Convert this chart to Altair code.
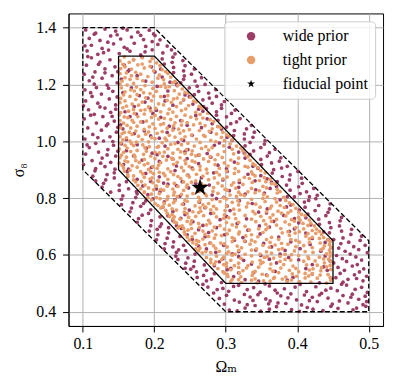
import altair as alt
import pandas as pd

# ---- polygon outlines of the two priors ----
wide_poly_x = [0.10, 0.20, 0.50, 0.50, 0.30, 0.10, 0.10]
wide_poly_y = [1.40, 1.40, 0.65, 0.40, 0.40, 0.90, 1.40]
tight_poly_x = [0.15, 0.20, 0.45, 0.45, 0.30, 0.15, 0.15]
tight_poly_y = [1.30, 1.30, 0.65, 0.50, 0.50, 0.90, 1.30]

fiducial_x = [0.264]
fiducial_y = [0.837]

# ---- wide prior samples (x, y pairs) ----
wide_top = [.104,1.392, .118,1.381, .131,1.395, .146,1.388, .162,1.392, .177,1.384, .193,1.391,
    .109,1.362, .124,1.355, .139,1.371, .153,1.36, .168,1.367, .185,1.358, .201,1.372,
    .112,1.338, .127,1.327, .143,1.343, .158,1.331, .172,1.345, .188,1.334, .205,1.341, .218,1.335,
    .106,1.318, .121,1.306, .136,1.321, .151,1.309, .166,1.317, .181,1.304, .197,1.322, .212,1.311, .229,1.308,
    .116,1.377, .148,1.375, .181,1.373, .135,1.349, .197,1.351, .162,1.325, .224,1.322, .103,1.336,
    .208,1.357, .129,1.312, .187,1.315, .156,1.398, .199,1.378]

wide_left = [.112,1.294, .138,1.287, .124,1.279, .105,1.268, .145,1.262, .131,1.255, .117,1.244, .102,1.236,
    .141,1.231, .127,1.222, .109,1.213, .148,1.206, .134,1.198, .119,1.189, .103,1.181, .142,1.176,
    .126,1.166, .113,1.158, .137,1.149, .104,1.142, .121,1.134, .146,1.128, .131,1.117, .108,1.111,
    .139,1.102, .116,1.095, .128,1.087, .102,1.079, .144,1.071, .119,1.064, .133,1.055, .107,1.047,
    .126,1.039, .147,1.032, .114,1.024, .138,1.016, .103,1.008, .129,1.001, .118,.993, .143,.986,
    .109,.978, .135,.971, .122,.962, .104,.955, .146,.948, .127,.941, .113,.932, .139,.926,
    .101,.918, .131,.911, .118,.904, .145,.902,
    .122,1.271, .149,1.245, .114,1.226, .136,1.187, .111,1.171, .148,1.156, .124,1.121, .141,1.088,
    .111,1.092, .135,1.061, .149,1.049, .121,1.013, .142,.999, .106,.987, .149,.965, .125,.923,
    .107,1.298, .131,1.241, .146,1.113, .116,1.201, .101,1.125, .134,.952]

wide_lower_left = [.117,.896, .144,.889, .134,.883, .114,.877, .144,.871, .132,.864, .161,.858, .129,.852,
    .151,.846, .127,.839, .164,.833, .151,.827, .139,.821, .176,.815, .156,.808, .174,.802,
    .154,.796, .188,.79, .170,.784, .154,.777, .181,.771, .168,.765, .195,.759, .166,.752,
    .192,.746, .183,.74, .208,.734, .178,.728, .196,.721, .176,.715, .210,.709, .195,.703,
    .220,.696, .204,.69, .193,.684, .220,.678, .205,.671, .236,.665, .218,.659, .203,.653,
    .227,.646, .215,.64, .241,.634, .226,.628, .214,.621, .244,.615, .231,.609, .257,.603,
    .230,.596, .247,.59, .233,.584, .256,.578, .244,.571, .270,.565, .255,.559, .243,.553,
    .273,.546, .259,.54, .284,.534, .269,.528, .260,.521, .280,.515, .273,.509, .294,.503,
    .118,.861, .185,.781, .208,.70, .234,.618, .251,.55, .175,.823]

wide_bottom = [.305,.406, .327,.413, .349,.402, .371,.418, .392,.408, .414,.415, .436,.404, .457,.412, .478,.407, .496,.419,
    .298,.427, .319,.434, .341,.422, .362,.438, .384,.429, .406,.424, .428,.436, .449,.427, .471,.431, .492,.425,
    .291,.447, .312,.441, .334,.452, .356,.445, .377,.456, .399,.442, .421,.451, .443,.448, .464,.457, .486,.444,
    .283,.466, .304,.472, .326,.461, .348,.469, .369,.476, .391,.463, .413,.471, .434,.465, .456,.474, .477,.462, .498,.468,
    .275,.487, .296,.482, .318,.493, .339,.485, .361,.491, .382,.481, .404,.496, .426,.488, .447,.483, .469,.494, .49,.486,
    .316,.403, .361,.409, .403,.401, .447,.419, .483,.413, .33,.425, .373,.431, .417,.439, .459,.438, .497,.436,
    .301,.458, .345,.46, .387,.449, .431,.459, .475,.451, .288,.478, .33,.478, .372,.466, .397,.487, .44,.476,
    .462,.497, .268,.496, .311,.489, .355,.498, .481,.479, .422,.409, .338,.44, .41,.459, .495,.455, .36,.428]

wide_right = [.226,1.296, .211,1.29, .240,1.284, .225,1.278, .214,1.272, .243,1.266, .227,1.26, .256,1.254,
    .241,1.248, .227,1.242, .252,1.236, .242,1.23, .266,1.224, .241,1.218, .257,1.212, .237,1.206,
    .271,1.2, .260,1.194, .249,1.188, .286,1.182, .262,1.176, .276,1.17, .256,1.164, .287,1.158,
    .277,1.152, .268,1.146, .298,1.14, .281,1.134, .294,1.128, .269,1.122, .294,1.116, .313,1.11,
    .287,1.104, .308,1.098, .287,1.092, .301,1.086, .320,1.08, .289,1.074, .315,1.068, .307,1.062,
    .336,1.056, .301,1.05, .329,1.044, .312,1.038, .340,1.032, .326,1.026, .311,1.02, .338,1.014,
    .326,1.008, .355,1.002, .334,.996, .354,.99, .327,.984, .349,.978, .369,.972, .339,.966,
    .361,.96, .334,.954, .358,.948, .377,.942, .349,.936, .375,.93, .364,.924, .350,.918,
    .386,.912, .378,.906, .367,.90, .401,.894, .365,.888, .390,.882, .379,.876, .406,.87,
    .389,.864, .372,.858, .407,.852, .385,.846, .402,.84, .423,.834, .390,.828, .413,.822,
    .404,.816, .428,.81, .396,.804, .426,.798, .416,.792, .410,.786, .446,.78, .430,.774,
    .411,.768, .445,.762, .425,.756, .443,.75, .415,.744, .440,.738, .462,.732, .430,.726,
    .460,.72, .445,.714, .431,.708, .459,.702, .447,.696, .476,.69, .462,.684, .445,.678,
    .475,.672, .490,.666, .464,.66, .451,.654, .488,.651, .273,1.115, .417,.805,
    .472,.645, .461,.64, .495,.634, .479,.629, .458,.624, .486,.619, .467,.613, .498,.608,
    .474,.603, .455,.598, .482,.593, .463,.587, .49,.582, .469,.577, .451,.572, .484,.566,
    .477,.561, .457,.556, .493,.551, .466,.546, .487,.54, .46,.535, .48,.53, .497,.525,
    .454,.52, .471,.514, .492,.509, .464,.504, .483,.517]

wide_inner = [.171,1.287, .196,1.262, .158,1.268, .209,1.254, .183,1.296, .165,1.251,
    .222,1.208, .176,1.231, .201,1.244, .154,1.219, .231,1.203, .188,1.212, .163,1.246, .211,1.226,
    .243,1.163, .168,1.188, .219,1.177, .191,1.152, .156,1.171, .232,1.196, .204,1.193, .249,1.157, .179,1.161, .214,1.158,
    .262,1.113, .187,1.138, .226,1.127, .159,1.104, .241,1.146, .203,1.109, .172,1.122, .254,1.131, .215,1.142, .268,1.106, .194,1.117,
    .281,1.062, .166,1.087, .237,1.073, .198,1.098, .258,1.091, .153,1.058, .221,1.053, .274,1.079, .184,1.068, .246,1.056, .209,1.084, .289,1.052, .175,1.096,
    .302,1.014, .186,1.037, .253,1.021, .161,1.006, .227,1.046, .279,1.032, .207,1.011, .294,1.043, .172,1.027, .241,1.003, .266,1.048, .195,1.019, .309,1.004, .218,1.031, .156,1.044,
    .318,.962, .176,.988, .247,.971, .204,.953, .291,.994, .161,.967, .233,.996, .274,.957, .189,.976, .326,.958, .215,.983, .262,.951, .305,.979, .154,.991, .243,.964, .197,.958, .284,.986,
    .338,.912, .183,.934, .262,.921, .219,.947, .301,.903, .157,.918, .246,.939, .327,.941, .196,.908, .279,.944, .231,.913, .171,.949, .312,.927, .253,.906, .207,.929, .345,.905, .164,.902, .289,.916, .226,.937,
    .188,.887, .266,.872, .341,.861, .213,.853, .302,.894, .176,.866, .247,.881, .358,.868, .229,.897, .319,.855, .195,.859, .283,.889, .349,.879, .162,.893, .258,.852, .331,.884, .207,.875, .296,.864, .239,.858, .364,.856,
    .203,.832, .277,.846, .354,.818, .236,.807, .318,.838, .191,.812, .262,.824, .371,.841, .219,.849, .297,.803, .342,.829, .184,.843, .248,.836, .386,.805, .327,.814, .208,.822, .281,.811, .362,.834, .231,.844, .305,.826,
    .214,.787, .302,.772, .376,.794, .249,.758, .337,.781, .198,.797, .271,.766, .391,.776, .226,.753, .319,.791, .358,.762, .241,.779, .403,.758, .287,.798, .212,.769, .346,.751, .263,.785, .385,.769, .306,.756, .229,.794,
    .243,.742, .329,.727, .402,.713, .268,.704, .357,.748, .226,.721, .301,.736, .419,.706, .254,.717, .381,.739, .231,.703, .316,.711, .396,.728, .279,.746, .347,.702, .219,.738, .292,.724, .367,.718, .412,.731, .237,.729,
    .262,.689, .348,.674, .421,.658, .287,.696, .374,.663, .246,.671, .312,.652, .437,.681, .271,.664, .396,.692, .331,.687, .253,.655, .412,.677, .298,.671, .361,.698, .238,.693, .443,.654, .324,.661, .389,.683, .276,.679,
    .278,.642, .364,.628, .433,.613, .309,.604, .391,.646, .262,.631, .342,.617, .418,.637, .286,.609, .447,.626, .327,.648, .273,.621, .376,.603, .404,.622, .297,.634, .353,.641, .439,.644, .318,.612, .383,.616,
    .296,.587, .371,.572, .437,.558, .318,.594, .402,.583, .284,.562, .349,.598, .421,.566, .307,.553, .388,.591, .446,.579, .336,.568, .291,.576, .412,.552, .361,.585, .325,.581, .439,.596,
    .318,.537, .394,.521, .442,.546, .346,.508, .311,.524, .421,.533, .369,.542, .327,.513, .403,.504, .448,.517, .357,.529, .302,.548, .386,.511, .431,.502, .339,.538]

# ---- tight prior samples (x, y pairs) ----
tight_upper = [.158,1.297, .183,1.294, .197,1.291, .171,1.288, .152,1.283, .194,1.281,
    .165,1.278, .203,1.276, .183,1.272, .156,1.271, .177,1.269, .194,1.264, .159,1.262, .208,1.266,
    .186,1.258, .168,1.254, .211,1.252, .153,1.256, .199,1.248, .174,1.243, .216,1.245, .161,1.241,
    .152,1.238, .181,1.236, .207,1.233, .168,1.231, .219,1.239, .191,1.228, .159,1.224, .223,1.226, .176,1.221, .205,1.222,
    .166,1.218, .213,1.217, .184,1.213, .229,1.211, .155,1.212, .197,1.208, .171,1.204, .226,1.206, .152,1.201, .214,1.202,
    .162,1.198, .187,1.196, .233,1.197, .209,1.193, .175,1.191, .221,1.192,
    .154,1.188, .198,1.186, .239,1.184, .181,1.182, .216,1.189, .167,1.181,
    .228,1.178, .203,1.176, .159,1.174, .243,1.172, .185,1.171, .172,1.177,
    .194,1.168, .235,1.166, .157,1.163, .219,1.161, .247,1.169, .176,1.164,
    .166,1.158, .209,1.157, .251,1.155, .188,1.153, .153,1.151, .232,1.152, .199,1.159,
    .241,1.148, .174,1.147, .218,1.144, .159,1.142, .255,1.141, .196,1.143, .227,1.149,
    .183,1.138, .152,1.136, .237,1.135, .206,1.132, .259,1.139, .169,1.131, .224,1.137,
    .213,1.128, .248,1.126, .161,1.124, .192,1.121, .263,1.123, .178,1.127, .231,1.122,
    .156,1.118, .202,1.116, .244,1.114, .187,1.111, .266,1.117, .221,1.113, .171,1.112,
    .238,1.108, .164,1.106, .209,1.104, .258,1.102, .181,1.109, .153,1.101, .226,1.103, .195,1.107,
    .172,1.098, .219,1.097, .264,1.095, .151,1.093, .201,1.091, .243,1.092, .186,1.096, .275,1.099,
    .231,1.088, .158,1.086, .196,1.084, .268,1.082, .214,1.081, .177,1.087, .251,1.085, .163,1.083,
    .206,1.078, .278,1.076, .169,1.074, .239,1.072, .189,1.071, .223,1.077, .152,1.073, .259,1.079,
    .181,1.068, .246,1.066, .157,1.064, .213,1.062, .283,1.069, .198,1.061, .264,1.063, .171,1.067, .229,1.065,
    .255,1.058, .162,1.056, .227,1.054, .289,1.052, .193,1.051, .238,1.057, .176,1.053, .271,1.055, .209,1.059,
    .153,1.048, .218,1.046, .281,1.044, .186,1.042, .249,1.041, .167,1.047, .234,1.043, .293,1.049, .201,1.045,
    .263,1.038, .174,1.036, .211,1.034, .296,1.032, .158,1.031, .241,1.037, .192,1.033, .277,1.035, .226,1.039, .165,1.032,
    .204,1.028, .287,1.026, .169,1.024, .252,1.022, .221,1.021, .155,1.027, .301,1.023, .188,1.025, .236,1.029, .269,1.021,
    .178,1.018, .243,1.016, .294,1.014, .161,1.012, .215,1.011, .271,1.017, .196,1.013, .305,1.019, .229,1.015, .152,1.016,
    .259,1.008, .183,1.006, .217,1.004, .298,1.002, .166,1.001, .238,1.007, .279,1.003, .201,1.009, .156,1.005, .309,1.006]

tight_middle = [.192,.998, .264,.996, .153,.994, .229,.992, .306,.991, .175,.997, .247,.993, .286,.999, .211,.995, .168,.992,
    .238,.988, .159,.986, .297,.984, .206,.982, .272,.981, .184,.987, .315,.983, .223,.989, .171,.985, .256,.983, .193,.981,
    .281,.978, .162,.976, .219,.974, .309,.972, .245,.971, .187,.977, .151,.973, .266,.975, .204,.979, .321,.976, .233,.972,
    .176,.968, .253,.966, .298,.964, .214,.962, .157,.961, .324,.967, .237,.963, .189,.965, .276,.969, .201,.961, .167,.964,
    .226,.958, .311,.956, .185,.954, .263,.952, .154,.951, .243,.957, .289,.953, .207,.959, .327,.955, .172,.951, .252,.954,
    .195,.948, .278,.946, .161,.944, .236,.942, .318,.941, .212,.947, .295,.943, .173,.945, .258,.949, .331,.946, .152,.942, .224,.941,
    .269,.938, .186,.936, .307,.934, .243,.932, .159,.931, .226,.937, .334,.933, .201,.939, .285,.935, .174,.932, .253,.931, .217,.934,
    .163,.928, .232,.926, .298,.924, .191,.922, .338,.921, .257,.927, .151,.923, .276,.929, .209,.925, .317,.922, .179,.926, .244,.921,
    .285,.918, .206,.916, .169,.914, .327,.912, .249,.911, .186,.917, .303,.913, .227,.919, .155,.915, .341,.916, .264,.912, .198,.911,
    .238,.908, .157,.906, .313,.904, .273,.902, .192,.901, .345,.907, .219,.903, .176,.909, .291,.905, .254,.901, .331,.909, .204,.905,
    .166,.898, .241,.896, .318,.894, .195,.892, .287,.891, .349,.897, .223,.893, .158,.895, .264,.899, .336,.892, .207,.891, .301,.895, .181,.893,
    .274,.888, .199,.886, .338,.884, .163,.882, .246,.881, .312,.887, .227,.883, .355,.889, .184,.885, .291,.882, .213,.887, .259,.884,
    .171,.878, .233,.876, .302,.874, .354,.872, .197,.871, .268,.877, .326,.873, .215,.879, .163,.875, .284,.871, .249,.874, .341,.878, .186,.873,
    .296,.868, .219,.866, .171,.864, .347,.862, .258,.861, .194,.867, .319,.863, .237,.869, .276,.865, .362,.866, .205,.862, .333,.869,
    .182,.858, .252,.856, .311,.854, .228,.852, .364,.851, .174,.857, .289,.853, .206,.859, .337,.855, .266,.851, .198,.854, .356,.858, .241,.857,
    .324,.848, .187,.846, .271,.844, .218,.842, .352,.841, .246,.847, .295,.843, .177,.845, .369,.849, .233,.841, .308,.846, .203,.843,
    .259,.838, .192,.836, .336,.834, .226,.832, .372,.831, .283,.837, .181,.833, .245,.839, .314,.835, .209,.831, .357,.836, .268,.833, .299,.831,
    .213,.828, .347,.826, .282,.824, .186,.822, .318,.821, .241,.827, .376,.823, .199,.829, .263,.825, .331,.822, .228,.821, .302,.828,
    .372,.818, .254,.816, .196,.814, .321,.812, .227,.811, .289,.817, .353,.813, .186,.819, .271,.815, .238,.813, .341,.819, .207,.816, .306,.811,
    .273,.808, .219,.806, .358,.804, .191,.802, .297,.801, .246,.807, .381,.803, .326,.809, .232,.805, .203,.802, .315,.806, .262,.803]

tight_lower = [.208,.798, .336,.796, .264,.794, .384,.792, .229,.791, .301,.797, .196,.793, .352,.799, .281,.795, .243,.792, .369,.798, .218,.795, .317,.791,
    .292,.788, .371,.786, .227,.784, .331,.782, .201,.781, .262,.787, .389,.783, .246,.789, .309,.785, .214,.782, .355,.788, .276,.781,
    .239,.778, .318,.776, .205,.774, .364,.772, .283,.771, .394,.777, .257,.773, .342,.779, .221,.775, .301,.772, .376,.774, .268,.776, .212,.771,
    .348,.768, .264,.766, .398,.764, .225,.762, .311,.761, .382,.767, .243,.763, .329,.769, .209,.765, .287,.762, .362,.764, .272,.768,
    .231,.758, .299,.756, .373,.754, .254,.752, .402,.751, .216,.757, .338,.753, .279,.759, .391,.755, .242,.751, .319,.758, .357,.752, .265,.754,
    .387,.748, .246,.746, .312,.744, .225,.742, .366,.741, .283,.747, .406,.743, .262,.749, .341,.745, .218,.746, .298,.741, .378,.747,
    .269,.738, .349,.736, .228,.734, .402,.732, .304,.731, .384,.737, .248,.733, .327,.739, .221,.735, .362,.731, .287,.734, .411,.738, .258,.736,
    .314,.728, .236,.726, .392,.724, .276,.722, .353,.721, .226,.727, .417,.723, .297,.729, .371,.725, .252,.721, .336,.726, .404,.722,
    .246,.718, .383,.716, .301,.714, .419,.712, .262,.711, .342,.717, .231,.713, .396,.719, .318,.715, .278,.712, .364,.718, .228,.716, .408,.711,
    .356,.708, .273,.706, .415,.704, .239,.702, .327,.701, .389,.707, .292,.703, .251,.709, .371,.705, .424,.702, .309,.706, .235,.701,
    .284,.698, .398,.696, .241,.694, .346,.692, .427,.691, .263,.697, .377,.693, .315,.699, .233,.695, .409,.692, .298,.691, .359,.696, .252,.693,
    .333,.688, .421,.686, .268,.684, .387,.682, .242,.681, .305,.687, .431,.683, .356,.689, .281,.685, .403,.682, .247,.687, .319,.681,
    .379,.678, .257,.676, .318,.674, .434,.672, .286,.671, .397,.677, .243,.673, .352,.679, .415,.675, .271,.672, .336,.671, .426,.676, .302,.674,
    .294,.668, .412,.666, .253,.664, .364,.662, .437,.661, .328,.667, .246,.663, .389,.669, .276,.665, .421,.662, .345,.664, .309,.661,
    .431,.658, .268,.656, .357,.654, .249,.652, .398,.651, .312,.657, .443,.653, .284,.659, .374,.655, .336,.652, .417,.657, .259,.651, .391,.654,
    .262,.648, .341,.646, .417,.644, .293,.642, .378,.641, .446,.647, .254,.643, .326,.649, .403,.645, .279,.641, .362,.644, .432,.642, .309,.647,
    .387,.638, .271,.636, .352,.634, .438,.632, .316,.631, .259,.637, .409,.633, .298,.639, .369,.635, .445,.637, .283,.632, .334,.638,
    .302,.628, .421,.626, .264,.624, .379,.622, .343,.621, .447,.627, .286,.623, .398,.629, .322,.625, .258,.621, .436,.623, .361,.627,
    .433,.618, .318,.616, .396,.614, .272,.612, .357,.611, .445,.617, .291,.613, .374,.619, .262,.615, .411,.612, .336,.617, .304,.611,
    .279,.608, .364,.606, .441,.604, .327,.602, .392,.601, .267,.607, .348,.603, .422,.609, .301,.605, .383,.602, .446,.608, .313,.603,
    .402,.598, .287,.596, .358,.594, .431,.592, .273,.591, .336,.597, .415,.593, .309,.599, .376,.595, .446,.596, .297,.592, .354,.591,
    .321,.588, .437,.586, .279,.584, .391,.582, .348,.581, .416,.587, .294,.583, .367,.589, .444,.585, .307,.581, .383,.584,
    .409,.578, .286,.576, .352,.574, .438,.572, .318,.571, .376,.577, .279,.573, .425,.579, .337,.575, .447,.576, .301,.571,
    .363,.568, .297,.566, .428,.564, .331,.562, .394,.561, .284,.567, .446,.563, .349,.569, .413,.565, .312,.562, .381,.566,
    .441,.558, .318,.556, .377,.554, .289,.552, .422,.551, .346,.557, .398,.553, .301,.559, .434,.555, .362,.551, .329,.554,
    .307,.548, .389,.546, .433,.544, .341,.542, .296,.541, .417,.547, .366,.543, .447,.549, .324,.545, .402,.541,
    .374,.538, .298,.536, .421,.534, .351,.532, .443,.531, .319,.537, .393,.533, .338,.539, .411,.535, .302,.532,
    .337,.528, .416,.526, .303,.524, .384,.522, .446,.521, .358,.527, .321,.523, .432,.529, .399,.525, .368,.521,
    .428,.518, .341,.516, .309,.514, .392,.512, .447,.511, .367,.517, .318,.513, .411,.519, .379,.515, .336,.511,
    .362,.508, .307,.506, .419,.504, .344,.502, .441,.501, .386,.507, .322,.503, .403,.505, .353,.509]

groups = ["wide prior", "tight prior", "fiducial point"]
colors = ["#9b3d66", "#e99d6a", "#000000"]
star_path = ("M0,-1L0.2245,-0.309L0.951,-0.309L0.363,0.118L0.588,0.809L0,0.382"
             "L-0.588,0.809L-0.363,0.118L-0.951,-0.309L-0.2245,-0.309Z")
shapes = ["circle", "circle", star_path]


def rows(flat, group):
    return [{"x": flat[i], "y": flat[i + 1], "group": group} for i in range(0, len(flat), 2)]


sample_rows = []
for part in [wide_top, wide_left, wide_lower_left, wide_bottom, wide_right, wide_inner]:
    sample_rows += rows(part, "wide prior")
for part in [tight_upper, tight_middle, tight_lower]:
    sample_rows += rows(part, "tight prior")
samples = pd.DataFrame(sample_rows)

poly_rows = []
for name, px, py in [("wide", wide_poly_x, wide_poly_y), ("tight", tight_poly_x, tight_poly_y)]:
    for i, (a, b) in enumerate(zip(px, py)):
        poly_rows.append({"poly": name, "idx": i, "x": a, "y": b})
polys = pd.DataFrame(poly_rows)

star = pd.DataFrame({"x": fiducial_x, "y": fiducial_y, "group": ["fiducial point"]})

FONT = "Liberation Serif, DejaVu Serif, serif"

xscale = alt.Scale(domain=[0.08, 0.52], nice=False, zero=False)
yscale = alt.Scale(domain=[0.35, 1.45], nice=False, zero=False)
xaxis = alt.Axis(values=[0.1, 0.2, 0.3, 0.4, 0.5], format=".1f", title="Ωₘ",
                 labelPadding=4, titlePadding=7)
yaxis = alt.Axis(values=[0.4, 0.6, 0.8, 1.0, 1.2, 1.4], format=".1f", title="σ₈",
                 labelPadding=7, titlePadding=9)

legend = alt.Legend(title=None, orient="top-right", offset=8, padding=7,
                    symbolSize=72, symbolOffset=12, labelOffset=24, rowPadding=8,
                    labelFont=FONT, labelFontSize=16, labelColor="black",
                    fillColor="rgba(255,255,255,0.8)", strokeColor="#cccccc",
                    cornerRadius=4, symbolStrokeWidth=0)

color = alt.Color("group:N", scale=alt.Scale(domain=groups, range=colors), legend=legend)
shape = alt.Shape("group:N", scale=alt.Scale(domain=groups, range=shapes), legend=legend)

points = alt.Chart(samples).mark_point(filled=True, size=14, opacity=1, strokeWidth=0).encode(
    x=alt.X("x:Q", scale=xscale, axis=xaxis),
    y=alt.Y("y:Q", scale=yscale, axis=yaxis),
    color=color,
    shape=shape,
)

lines = alt.Chart(polys).mark_line(color="black", strokeWidth=1.3).encode(
    x=alt.X("x:Q", scale=xscale),
    y=alt.Y("y:Q", scale=yscale),
    detail="poly:N",
    order="idx:Q",
    strokeDash=alt.StrokeDash("poly:N", scale=alt.Scale(domain=["wide", "tight"], range=[[5, 2.5], [1, 0]]),
                              legend=None),
)

fid = alt.Chart(star).mark_point(filled=True, size=340, opacity=1, strokeWidth=0).encode(
    x=alt.X("x:Q", scale=xscale),
    y=alt.Y("y:Q", scale=yscale),
    color=color,
    shape=shape,
)

chart = alt.layer(points, lines, fid).properties(
    width=317, height=315, padding={"left": 3, "top": 4, "right": 5, "bottom": 5}
).configure_axis(
    grid=True, gridColor="#b0b0b0", gridWidth=1,
    domainColor="black", domainWidth=1, tickColor="black", tickSize=6,
    labelFont=FONT, labelFontSize=16, labelColor="black",
    titleFont=FONT, titleFontSize=16, titleFontWeight="normal", titleColor="black",
).configure_view(stroke="black", strokeWidth=1)

chart.save("out.html", embed_options={"renderer": "svg", "actions": False})
